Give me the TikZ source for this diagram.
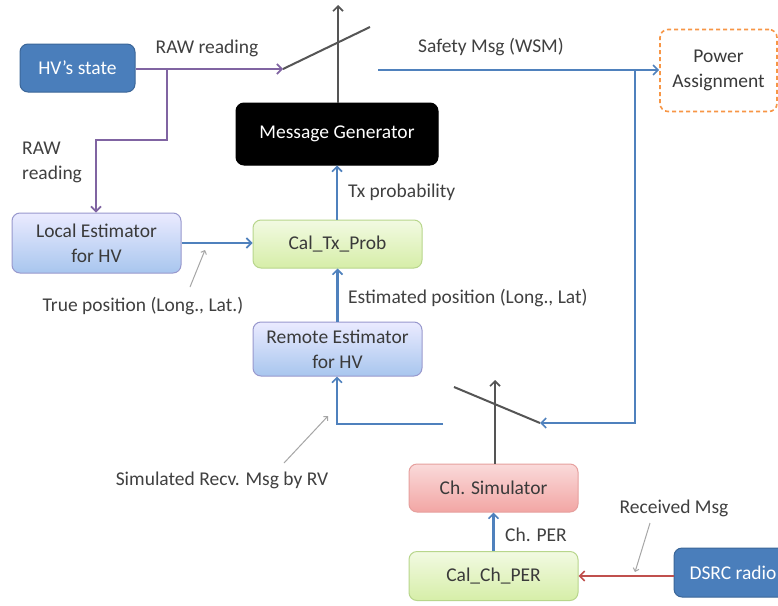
\documentclass[tikz,border=0pt]{standalone}
\usepackage{fontspec}
\setmainfont{Carlito}
\usetikzlibrary{arrows.meta}
\definecolor{txt}{HTML}{3A3A3A}
\definecolor{lbl}{HTML}{404040}
\definecolor{officeblue}{HTML}{4F81BD}
\definecolor{darkblue}{HTML}{4A7EBB}
\definecolor{darkblueedge}{HTML}{3B6698}
\definecolor{purpleline}{HTML}{8064A2}
\definecolor{redline}{HTML}{C0504D}
\definecolor{switchgray}{HTML}{555555}
\definecolor{notegray}{HTML}{A6A6A6}
\definecolor{orangeedge}{HTML}{F79646}
\tikzset{
  every node/.style={font=\fontsize{19.5}{25}\selectfont, text=txt},
  box/.style={rectangle, rounded corners=8pt, inner sep=0pt, align=center, line width=1pt},
  darkbox/.style={box, fill=darkblue, draw=darkblueedge, text=white},
  blackbox/.style={box, fill=black, draw=black, text=white},
  bluebox/.style={box, draw=blue!35!gray!60, top color=blue!8!white, bottom color={rgb,255:red,168;green,198;blue,238}},
  greenbox/.style={box, draw={rgb,255:red,184;green,214;blue,140}, top color={rgb,255:red,242;green,250;blue,226}, bottom color={rgb,255:red,214;green,238;blue,168}},
  redbox/.style={box, draw={rgb,255:red,230;green,160;blue,158}, top color={rgb,255:red,250;green,218;blue,218}, bottom color={rgb,255:red,242;green,166;blue,164}},
  dashbox/.style={box, draw=orangeedge, dash pattern=on 4pt off 3pt, line width=1.6pt},
  tip/.style={-{Straight Barb[length=5pt,width=10pt,line width=1.6pt]}},
  blueflow/.style={draw=officeblue, line width=2.5pt},
  purpleflow/.style={draw=purpleline, line width=2.5pt},
  redflow/.style={draw=redline, line width=2.5pt},
  switchline/.style={draw=switchgray, line width=2pt},
  note/.style={draw=notegray, line width=1pt, -{Straight Barb[length=3pt,width=6pt]}},
  label/.style={text=lbl, inner sep=0pt}
}
\begin{document}
\begin{tikzpicture}[x=1pt, y=-1pt]
\useasboundingbox (0,0) rectangle (778,605);
\fill[white] (0,0) rectangle (778,605);

% blocks
\node[darkbox, minimum width=115pt, minimum height=48pt] (hv) at (77.5,68) {HV’s state};
\node[blackbox, minimum width=202pt, minimum height=62pt] (gen) at (337,134) {Message Generator};
\node[greenbox, minimum width=169pt, minimum height=48pt] (caltx) at (337.5,244) {Cal\_Tx\_Prob};
\node[bluebox, minimum width=169pt, minimum height=60pt] (local) at (96.5,243) {Local Estimator\\for HV};
\node[bluebox, minimum width=169pt, minimum height=54pt] (remote) at (337.5,349) {Remote Estimator\\for HV};
\node[redbox, minimum width=169pt, minimum height=48pt] (chsim) at (493.5,488) {Ch. Simulator};
\node[greenbox, minimum width=169pt, minimum height=49pt] (calch) at (493.5,576) {Cal\_Ch\_PER};
\node[darkbox, minimum width=118pt, minimum height=49pt] (dsrc) at (733,572.5) {DSRC radio};
\node[dashbox, minimum width=117pt, minimum height=82pt] (power) at (718.5,70.5) {Power\\Assignment};

% switch points
\coordinate (s1a) at (283,69);
\coordinate (s1b) at (370,27);
\coordinate (out1) at (338,5);
\coordinate (wsm) at (378,70);
\coordinate (split1) at (167,69);
\coordinate (turn1) at (167,140);
\coordinate (turn2) at (96,140);
\coordinate (split2) at (635,70);
\coordinate (turn3) at (635,423);
\coordinate (s2a) at (454,387);
\coordinate (s2b) at (540,423);
\coordinate (out2) at (495,380);
\coordinate (rv) at (443,424);
\coordinate (turn4) at (337,424);

% upper switch
\draw[switchline] (s1a) -- (s1b);
\draw[switchline, tip] (gen.north -| out1) -- (out1);
\draw[purpleflow, tip] (hv.east |- s1a) -- (s1a);
\draw[purpleflow, tip] (split1) -- (turn1) -- (turn2) -- (local.north -| turn2);
\draw[blueflow, tip] (wsm) -- (power.west |- wsm);
\draw[blueflow, tip] (split2) -- (turn3) -- (s2b);

% lower switch
\draw[switchline] (s2a) -- (s2b);
\draw[switchline, tip] (chsim.north -| out2) -- (out2);
\draw[blueflow, tip] (rv) -- (turn4) -- (remote.south -| turn4);

% data flow between blocks
\draw[blueflow, tip] (local.east) -- (local.east -| caltx.west);
\draw[blueflow, tip] (caltx.north -| gen.south) -- (gen.south);
\draw[blueflow, tip] (remote.north -| caltx.south) -- (caltx.south);
\draw[blueflow, tip] (calch.north) -- (chsim.south);
\draw[redflow, tip] (dsrc.west |- calch.east) -- (calch.east);

% labels
\node[label] (lraw1) at (207,48) {RAW reading};
\node[label, anchor=west, align=left] (lraw2) at (22,162) {RAW\\reading};
\node[label] (lwsm) at (491,47) {Safety Msg (WSM)};
\node[label, anchor=west] (ltx) at (348,192) {Tx probability};
\node[label] (ltrue) at (143,306) {True position (Long., Lat.)};
\node[label, anchor=west] (lest) at (348,298) {Estimated position (Long., Lat)};
\node[label] (lsim) at (222,480) {Simulated Recv. Msg by RV};
\node[label, anchor=west] (lper) at (505,535) {Ch. PER};
\node[label] (lrecv) at (674,508) {Received Msg};

% pointer arrows
\coordinate (ptrue) at (205,250);
\coordinate (psim) at (328,416);
\coordinate (precv) at (635,572);
\draw[note] (190,287) -- (ptrue);
\draw[note] (284,463) -- (psim);
\draw[note] (650,523) -- (precv);
\end{tikzpicture}
\end{document}
